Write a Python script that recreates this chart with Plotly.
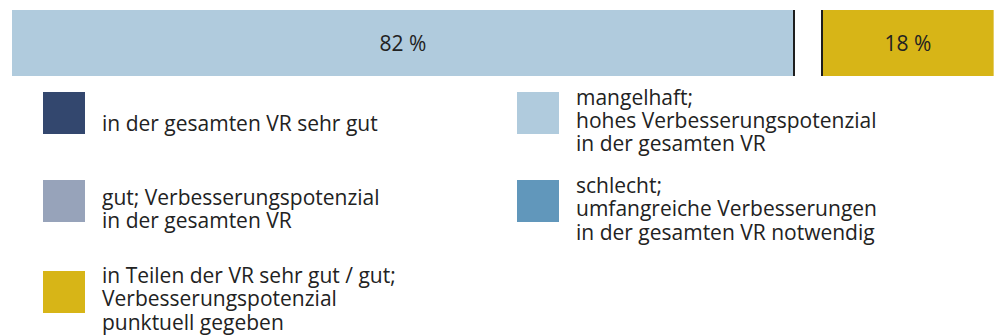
import plotly.graph_objects as go

# ---- data -------------------------------------------------------------
segment_labels = ["mangelhaft", "in Teilen der VR sehr gut / gut"]
segment_values = [82, 18]          # percent
segment_colors = ["#B0CBDD", "#D7B517"]

legend_labels = [
    ["in der gesamten VR sehr gut"],
    ["gut; Verbesserungspotenzial", "in der gesamten VR"],
    ["in Teilen der VR sehr gut / gut;", "Verbesserungspotenzial", "punktuell gegeben"],
    ["mangelhaft;", "hohes Verbesserungspotenzial", "in der gesamten VR"],
    ["schlecht;", "umfangreiche Verbesserungen", "in der gesamten VR notwendig"],
]
legend_colors = ["#33476E", "#97A3BA", "#D7B517", "#B0CBDD", "#6197BB"]

# ---- layout constants (pixels) ----------------------------------------
W, H = 999, 336
ML, MT, MB = 12, 10, 260
PLOT_W = W - ML
PLOT_H = H - MT - MB
PX_PER_UNIT = 782 / 82             # horizontal scale of the bar
X_MAX = PLOT_W / PX_PER_UNIT
GAP = 28 / PX_PER_UNIT             # white gap between the two segments

FONT = "Open Sans"
FS = 21
TXT = "#222222"
LINE_PITCH = 23.3
BASE_TO_MID = 0.388 * FS

# legend placement: (square left, text left, square top, first baseline)
legend_pos = [
    (43, 100, 92, 130.7),
    (43, 100, 180, 205.0),
    (43, 100, 271, 283.3),
    (517, 574, 92, 105.0),
    (517, 574, 180, 193.3),
]
SQ = 42


def px_x(px):
    return (px - ML) / PLOT_W


def px_y(py):
    return (MT + PLOT_H - py) / PLOT_H


fig = go.Figure()

# stacked segments with a small gap between them
bases = []
acc = 0.0
for i, v in enumerate(segment_values):
    bases.append(acc)
    acc += v + GAP

for i, (lab, v, c) in enumerate(zip(segment_labels, segment_values, segment_colors)):
    fig.add_trace(go.Bar(
        y=[0], x=[v], base=[bases[i]], orientation="h", width=1,
        name=lab, marker=dict(color=c, line=dict(width=0)),
        text=[f"{v} %"], textposition="inside", insidetextanchor="middle",
        textangle=0, constraintext="none",
        textfont=dict(family=FONT, size=FS, color=TXT),
        showlegend=False, hoverinfo="skip",
    ))

shapes = []
# dark separators at the inner edges of the segments
for xv in (bases[0] + segment_values[0], bases[1]):
    shapes.append(dict(type="line", xref="x", yref="y domain",
                       x0=xv, x1=xv, y0=0, y1=1,
                       line=dict(color="#1E1E1E", width=2)))

annotations = []
for lines, col, (sx, tx, sy, base) in zip(legend_labels, legend_colors, legend_pos):
    shapes.append(dict(type="rect", xref="paper", yref="paper",
                       x0=px_x(sx), x1=px_x(sx + SQ),
                       y0=px_y(sy + SQ), y1=px_y(sy),
                       fillcolor=col, line=dict(width=0)))
    for k, line in enumerate(lines):
        bl = base + k * LINE_PITCH
        annotations.append(dict(
            xref="paper", yref="paper", x=px_x(tx), y=px_y(bl - BASE_TO_MID),
            xanchor="left", yanchor="middle", text=line, showarrow=False,
            font=dict(family=FONT, size=FS, color=TXT)))

fig.update_layout(
    width=W, height=H,
    margin=dict(l=ML, r=0, t=MT, b=MB, pad=0),
    paper_bgcolor="white", plot_bgcolor="white",
    barmode="overlay",
    xaxis=dict(range=[0, X_MAX], visible=False, fixedrange=True),
    yaxis=dict(range=[-0.5, 0.5], visible=False, fixedrange=True),
    shapes=shapes, annotations=annotations,
    uniformtext=dict(mode=False),
)

fig.write_html("out.html")
